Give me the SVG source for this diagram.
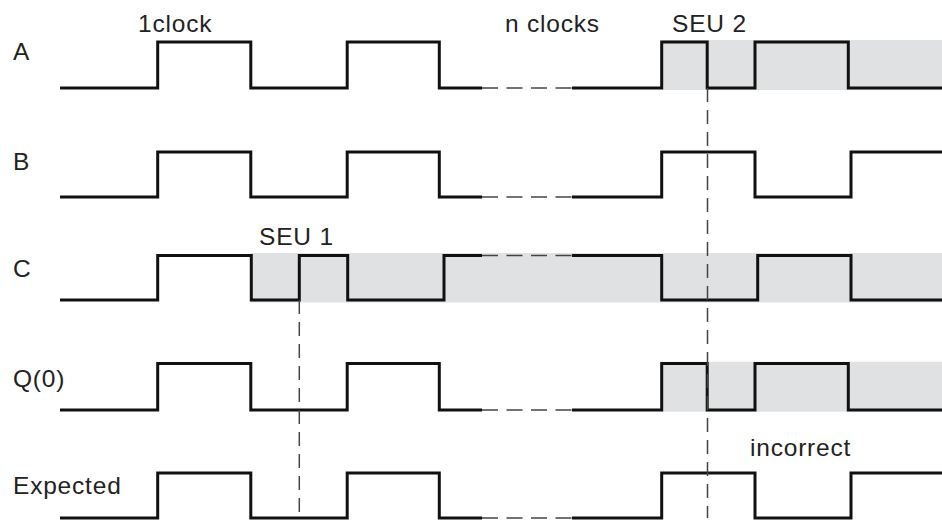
<svg xmlns="http://www.w3.org/2000/svg" width="942" height="521" viewBox="0 0 942 521">
<style>
.bg{fill:#ffffff}
.shade{fill:#e0e1e3;stroke:none}
.wave{fill:none;stroke:#111111;stroke-width:3;stroke-linejoin:miter;stroke-linecap:butt}
.gap{fill:none;stroke:#444444;stroke-width:1.5;stroke-dasharray:16 8.5}
.mark{fill:none;stroke:#444444;stroke-width:1.5;stroke-dasharray:14 8}
.lbl{font-family:"Liberation Sans",Arial,Helvetica,sans-serif;font-size:24.5px;letter-spacing:0.8px;fill:#222222}
</style>
<rect class="bg" x="0" y="0" width="942" height="521"/>
<g id="shading">
<rect class="shade" x="661.7" y="40" width="280.3" height="50"/>
<rect class="shade" x="251" y="253" width="691" height="49.5"/>
<rect class="shade" x="661.7" y="361.7" width="280.3" height="50"/>
</g>
<g id="signal-A">
<text class="lbl" x="13" y="60">A</text>
<path class="wave" d="M60,88 H157.7 V42 H250.8 V88 H347.2 V42 H439.3 V88 H482"/>
<path class="wave" d="M572,88 H661.7 V42 H707.2 V88 H755 V42 H848.3 V88 H942"/>
<path class="gap" d="M482,88 H572"/>
</g>
<g id="signal-B">
<text class="lbl" x="13" y="170">B</text>
<path class="wave" d="M60,197 H157.7 V152 H250.8 V197 H347.2 V152 H439.3 V197 H482"/>
<path class="wave" d="M572,197 H661.7 V152 H755 V197 H851 V152 H942"/>
<path class="gap" d="M482,197 H572"/>
</g>
<g id="signal-C">
<text class="lbl" x="13" y="277">C</text>
<path class="wave" d="M60,300 H157.7 V255.5 H251.3 V300 H299.3 V255.5 H347.7 V300 H444 V255.5 H482"/>
<path class="wave" d="M572,255.5 H661.7 V300 H757.7 V255.5 H851 V300 H942"/>
<path class="gap" d="M482,255.5 H572"/>
</g>
<g id="signal-Q0">
<text class="lbl" x="13" y="387">Q(0)</text>
<path class="wave" d="M60,410 H157.7 V363.5 H250.8 V410 H347.2 V363.5 H439.3 V410 H482"/>
<path class="wave" d="M572,410 H661.7 V363.5 H707.2 V410 H755 V363.5 H848.3 V410 H942"/>
<path class="gap" d="M482,410 H572"/>
</g>
<g id="signal-Expected">
<text class="lbl" x="13" y="494">Expected</text>
<path class="wave" d="M60,518 H157.7 V473 H250.8 V518 H347.2 V473 H439.3 V518 H482"/>
<path class="wave" d="M572,518 H661.7 V473 H755 V518 H851 V473 H942"/>
<path class="gap" d="M482,518 H572"/>
</g>
<g id="annotations">
<text class="lbl" x="138" y="32">1clock</text>
<text class="lbl" x="505" y="32">n clocks</text>
<text class="lbl" x="672" y="32">SEU 2</text>
<text class="lbl" x="259" y="245">SEU 1</text>
<text class="lbl" x="750" y="456">incorrect</text>
</g>
<g id="connectors">
<path class="mark" d="M299.3,300 V518"/>
<path class="mark" d="M707.5,88 V518"/>
</g>
</svg>
